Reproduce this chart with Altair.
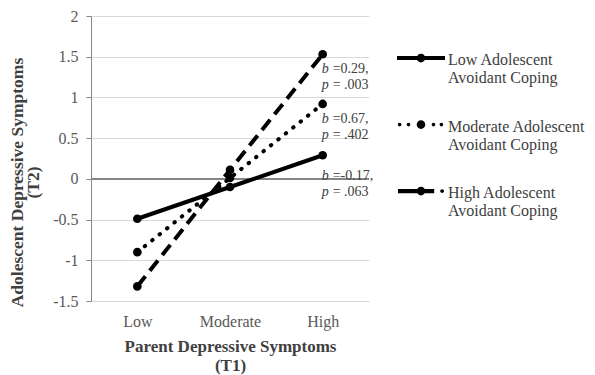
import altair as alt
import pandas as pd

# ---- data ----
levels = ["Low", "Moderate", "High"]
series = [
    "Low Adolescent Avoidant Coping",
    "Moderate Adolescent Avoidant Coping",
    "High Adolescent Avoidant Coping",
]
low_coping = [-0.49, -0.10, 0.29]
moderate_coping = [-0.90, 0.01, 0.92]
high_coping = [-1.32, 0.11, 1.53]

ann_b_text = ["=0.29,", "=0.67,", "=-0.17,"]
ann_p_text = ["= .003", "= .402", "= .063"]
ann_y = [1.35, 0.74, 0.04]
y_ticks = [-1.5, -1, -0.5, 0, 0.5, 1, 1.5, 2]

FONT = "Liberation Serif"

rows = []
for name, vals in zip(series, [low_coping, moderate_coping, high_coping]):
    for lvl, v in zip(levels, vals):
        rows.append({"level": lvl, "value": v, "series": name})
df = pd.DataFrame(rows)

ann = pd.DataFrame({"level": ["High"] * 3, "y": ann_y, "brest": ann_b_text, "prest": ann_p_text})

x_enc = alt.X(
    "level:N",
    sort=levels,
    scale=alt.Scale(domain=levels, padding=0.5),
    axis=alt.Axis(
        title=["Parent Depressive Symptoms", "(T1)"],
        domain=False, ticks=False, grid=False,
        labelFont=FONT, labelFontSize=16, labelColor="#595959", labelPadding=12, labelAngle=0,
        titleFont=FONT, titleFontSize=17, titleFontWeight="bold", titleColor="#404040",
        titlePadding=9, titleLineHeight=19,
    ),
)
y_scale = alt.Scale(domain=[-1.5, 2], nice=False)
y_enc = alt.Y(
    "value:Q",
    scale=y_scale,
    axis=alt.Axis(
        title=["Adolescent Depressive Symptoms", "(T2)"],
        values=y_ticks, labelExpr="datum.value + ''",
        domain=True, domainColor="#868686", ticks=True, tickSize=5, tickColor="#868686",
        grid=True, gridColor="#d9d9d9",
        labelFont=FONT, labelFontSize=16, labelColor="#595959", labelPadding=8,
        titleFont=FONT, titleFontSize=17.5, titleFontWeight="bold", titleColor="#404040",
        titlePadding=10, titleLineHeight=16, titleY=166,
    ),
)

base = alt.Chart(df)

zero = alt.Chart(df).mark_rule(color="#868686", strokeWidth=1).encode(y=alt.datum(0))

line_low = base.transform_filter(alt.datum.series == series[0]).mark_line(
    color="black", strokeWidth=4
).encode(x=x_enc, y=y_enc)
line_mod = base.transform_filter(alt.datum.series == series[1]).mark_line(
    color="black", strokeWidth=4, strokeDash=[0.5, 9], strokeCap="round"
).encode(x=x_enc, y=y_enc)
line_high = base.transform_filter(alt.datum.series == series[2]).mark_line(
    color="black", strokeWidth=4, strokeDash=[13, 7]
).encode(x=x_enc, y=y_enc)

points = base.mark_circle(color="black", size=75, opacity=1).encode(x=x_enc, y=y_enc)


def circ(cx, cy, r):
    return (f"M{cx - r},{cy}A{r},{r} 0 1,1 {cx + r},{cy}"
            f"A{r},{r} 0 1,1 {cx - r},{cy}Z")


def rect(x0, x1, cy, h):
    return f"M{x0},{cy - h}H{x1}V{cy + h}H{x0}Z"


s = -0.08
sym_low = rect(-1, -0.15, s, 0.085) + rect(0.15, 1, s, 0.085) + circ(0, s, 0.18)
sym_mod = (circ(-0.89, s, 0.075) + circ(-0.52, s, 0.075) + circ(0, s, 0.18)
           + circ(0.52, s, 0.075) + circ(0.85, s, 0.075))
sym_high = (rect(-0.96, -0.15, s, 0.09) + circ(0, s, 0.18) + rect(0.15, 0.55, s, 0.09)
            + circ(0.88, s, 0.08))

legend_layer = base.mark_point(filled=True, color="black", opacity=0).encode(
    x=x_enc, y=y_enc,
    shape=alt.Shape(
        "series:N",
        scale=alt.Scale(domain=series, range=[sym_low, sym_mod, sym_high]),
        legend=alt.Legend(
            title=None, orient="none", legendX=306, legendY=20,
            symbolSize=2304, symbolFillColor="black", symbolStrokeWidth=0,
            labelFont=FONT, labelFontSize=16, labelColor="#404040",
            labelLimit=400, labelOffset=3,
            rowPadding=16.5,
            labelExpr="[replace(datum.label, ' Avoidant Coping', ''), 'Avoidant Coping']",
        ),
    ),
)

ann_base = alt.Chart(ann).encode(
    x=alt.X("level:N", sort=levels, scale=alt.Scale(domain=levels, padding=0.5)),
    y=alt.Y("y:Q", scale=y_scale),
)
t_b = ann_base.mark_text(text="b", font=FONT, fontSize=14, fontStyle="italic", align="left",
                         baseline="middle", dx=-1, color="#404040")
t_brest = ann_base.mark_text(font=FONT, fontSize=14, align="left", baseline="middle", dx=10,
                             color="#404040").encode(text="brest:N")
t_p = ann_base.mark_text(text="p", font=FONT, fontSize=14, fontStyle="italic", align="left",
                         baseline="middle", dx=-1, dy=16, color="#404040")
t_prest = ann_base.mark_text(font=FONT, fontSize=14, align="left", baseline="middle", dx=10, dy=16,
                             color="#404040").encode(text="prest:N")

chart = alt.layer(
    zero, line_low, line_mod, line_high, points, legend_layer, t_b, t_brest, t_p, t_prest
).properties(
    width=278, height=285,
    padding={"left": 83, "top": 8, "right": 218, "bottom": 74},
    autosize=alt.AutoSizeParams(type="none"),
    background="white",
).configure_view(stroke=None)

chart.save("out.html", embed_options={"renderer": "svg", "actions": False})
